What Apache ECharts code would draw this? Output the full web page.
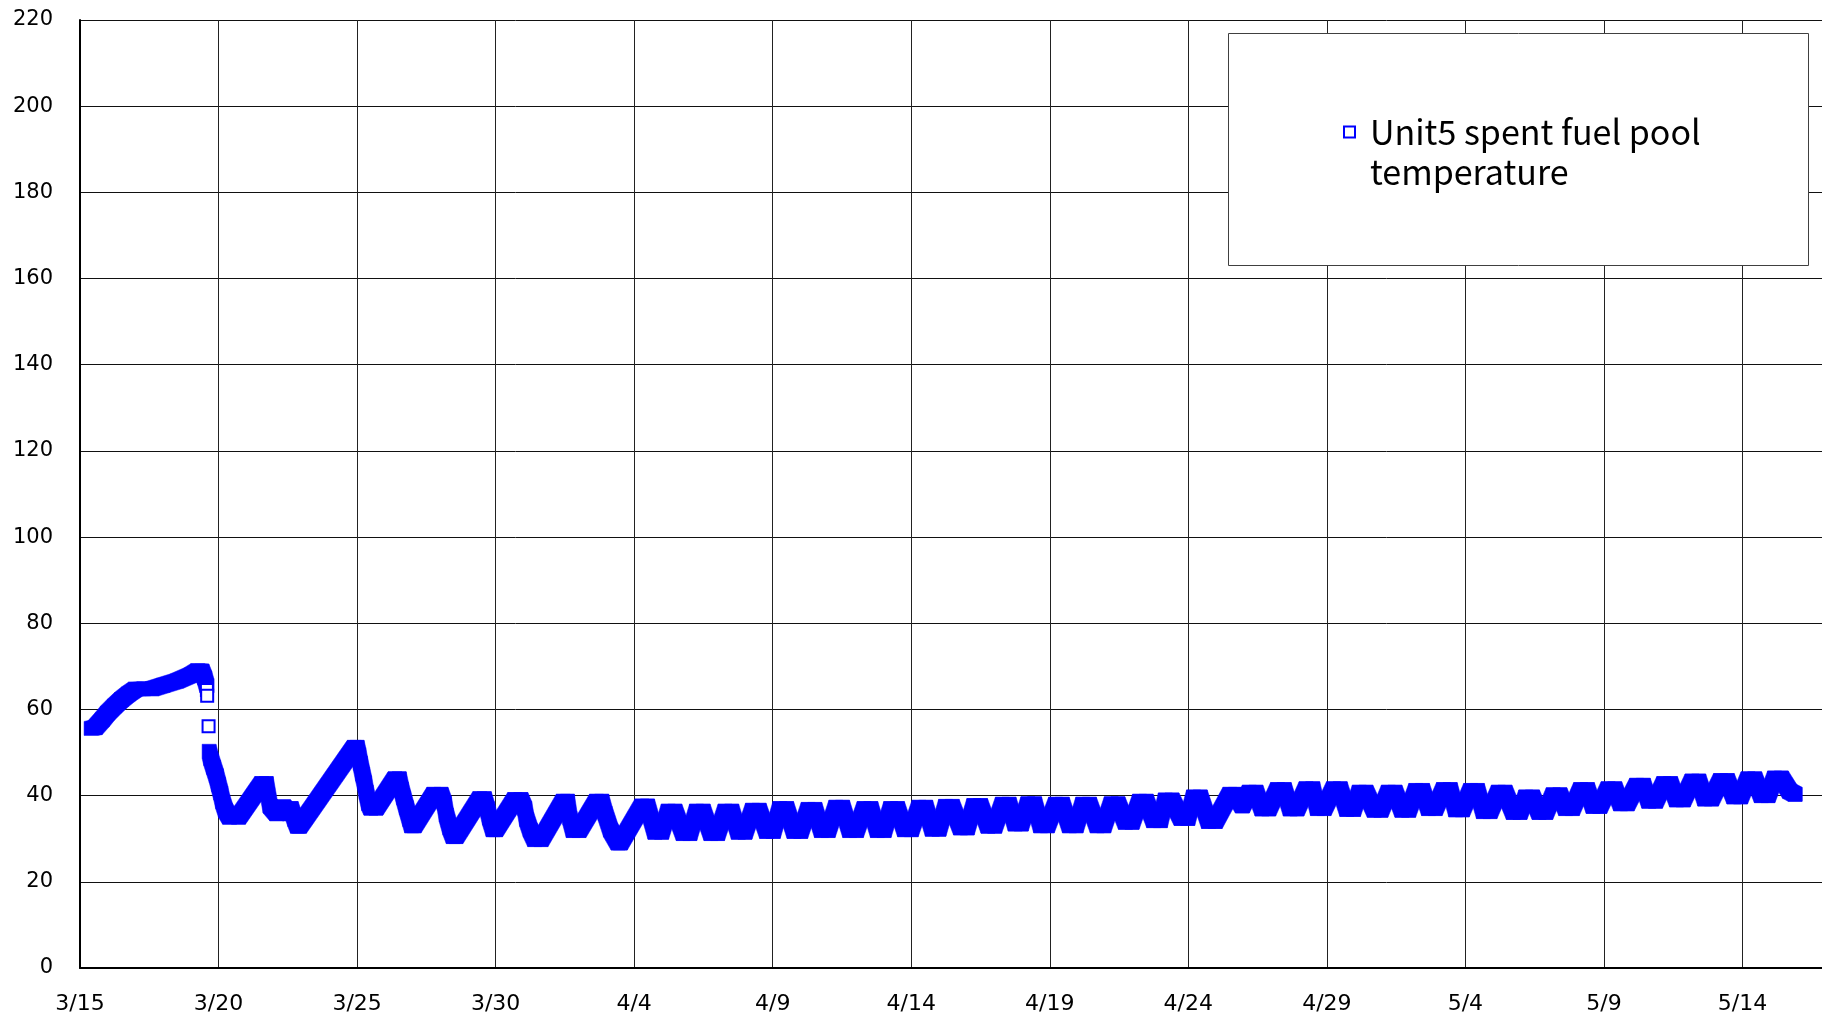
<!DOCTYPE html>
<html>
<head>
<meta charset="utf-8">
<script src="https://cdn.jsdelivr.net/npm/echarts@6/dist/echarts.min.js"></script>
<style>
html,body{margin:0;padding:0;background:#fff;}
#chart{width:1822px;height:1019px;}
</style>
</head>
<body>
<div id="chart"></div>
<script>
// x = days elapsed since 3/15 00:00, y = temperature (deg C)
const seriesName = 'Unit5 spent fuel pool temperature';
const xTickLabels = ['3/15','3/20','3/25','3/30','4/4','4/9','4/14','4/19','4/24','4/29','5/4','5/9','5/14'];
const yTickValues = [0,20,40,60,80,100,120,140,160,180,200,220];

// dense readings, part 1 (3/15 to the peak on 3/19)
const denseA = [[0.40,55.6],[0.55,55.8],[0.8,57.6],[1.0,59.2],[1.25,60.8],[1.5,62.3],[1.75,63.6],[2.0,64.7],[2.3,64.8],[2.6,64.8],[3.0,65.6],[3.5,66.6],[4.0,68.0],[4.25,69.0],[4.4,68.9],[4.5,67.3],[4.58,65.5]];
// sparse readings during the fast drop on 3/19
const sparse = [[4.58,64.5],[4.59,63.2],[4.64,56.1]];
// dense readings, part 2 (3/19 to 5/17)
const denseB = [[4.66,50.3],[4.72,48.6],[4.82,46.6],[4.92,44.6],[5.0,42.6],[5.08,40.6],[5.15,38.6],[5.25,36.6],[5.4,35.0],[5.72,35.0],
[6.56,42.8],[6.72,42.8],[6.86,37.6],[7.1,35.8],[7.35,37.4],[7.56,35.8],[7.62,37.0],[7.75,34.5],[7.85,32.9],[7.92,32.9],
[9.9,51.2],[10.0,51.2],[10.06,49.5],[10.12,47.5],[10.2,45.0],[10.27,43.0],[10.33,40.8],[10.42,38.2],[10.5,37.1],[10.68,37.1],
[11.37,43.9],[11.52,43.9],[11.6,41.5],[11.68,39.5],[11.78,37.2],[11.9,34.5],[11.97,33.0],[12.06,33.0],
[12.77,40.3],[13.03,40.3],[13.15,38.2],[13.22,35.5],[13.35,32.5],[13.47,30.5],[13.57,30.5],
[14.43,39.3],[14.59,39.3],[14.7,37.0],[14.78,34.8],[14.91,32.1],[15.0,32.1],
[15.69,39.1],[15.91,39.1],[16.05,37.0],[16.12,34.5],[16.25,32.0],[16.41,29.8],[16.64,29.8],
[17.44,38.7],[17.59,38.7],[17.68,34.8],[17.8,31.9],[18.01,31.9],
[18.64,38.7],[18.83,38.7],[18.95,35.9],[19.15,32.0],[19.42,29.0],[19.5,29.0],
[20.28,37.6],[20.48,37.6],[20.75,31.5],[20.99,31.5],[21.23,36.4],[21.47,36.4],[21.77,31.2],[22.01,31.2],
[22.25,36.4],[22.49,36.4],[22.77,31.2],[23.01,31.2],[23.28,36.4],[23.52,36.4],[23.76,31.5],[24.0,31.5],
[24.27,36.6],[24.51,36.6],[24.78,31.7],[25.02,31.7],[25.26,37.0],[25.5,37.0],[25.77,31.7],[26.01,31.7],
[26.28,36.8],[26.52,36.8],[26.76,31.9],[27.0,31.9],[27.28,37.3],[27.52,37.3],[27.78,31.9],[28.02,31.9],
[28.3,37.0],[28.54,37.0],[28.78,31.9],[29.02,31.9],[29.26,37.0],[29.5,37.0],[29.76,32.1],[30.0,32.1],
[30.28,37.3],[30.52,37.3],[30.76,32.2],[31.0,32.2],[31.24,37.5],[31.48,37.5],[31.78,32.5],[32.02,32.5],
[32.26,37.7],[32.5,37.7],[32.77,32.9],[33.01,32.9],[33.29,38.0],[33.53,38.0],[33.75,33.4],[33.97,33.4],
[34.21,38.1],[34.45,38.1],[34.67,33.0],[34.91,33.0],[35.21,38.0],[35.45,38.0],[35.71,33.0],[35.95,33.0],
[36.19,38.0],[36.43,38.0],[36.71,33.0],[36.95,33.0],[37.22,38.1],[37.46,38.1],[37.73,33.8],[37.97,33.8],
[38.24,38.7],[38.48,38.7],[38.75,34.2],[38.99,34.2],[39.17,39.0],[39.41,39.0],[39.74,34.7],[39.98,34.7],
[40.19,39.7],[40.43,39.7],[40.73,34.0],[40.97,34.0],[41.5,40.3],[41.7,40.3],[41.95,37.6],
[42.2,40.8],[42.44,40.8],[42.66,36.9],[42.9,36.9],[43.22,41.4],[43.46,41.4],[43.68,36.9],[43.92,36.9],
[44.25,41.6],[44.49,41.6],[44.66,37.0],[44.9,37.0],[45.24,41.6],[45.48,41.6],[45.72,36.8],[45.96,36.8],
[46.17,40.8],[46.41,40.8],[46.71,36.6],[46.95,36.6],[47.22,40.8],[47.46,40.8],[47.71,36.6],[47.95,36.6],
[48.21,41.2],[48.45,41.2],[48.67,37.0],[48.91,37.0],[49.21,41.4],[49.45,41.4],[49.65,36.7],[49.89,36.7],
[50.19,41.2],[50.43,41.2],[50.65,36.3],[50.89,36.3],[51.19,40.8],[51.43,40.8],[51.73,36.1],[51.97,36.1],
[52.18,39.7],[52.42,39.7],[52.66,36.1],[52.9,36.1],[53.17,40.2],[53.41,40.2],[53.62,37.0],[53.86,37.0],
[54.16,41.4],[54.4,41.4],[54.61,37.5],[54.85,37.5],[55.15,41.6],[55.39,41.6],[55.6,38.1],[55.84,38.1],
[56.18,42.4],[56.42,42.4],[56.62,38.7],[56.86,38.7],[57.16,42.8],[57.4,42.8],[57.62,39.0],[57.86,39.0],
[58.18,43.4],[58.42,43.4],[58.64,39.2],[58.88,39.2],[59.21,43.5],[59.45,43.5],[59.69,39.7],[59.93,39.7],
[60.2,43.9],[60.44,43.9],[60.68,40.0],[60.92,40.0],[61.16,44.1],[61.4,44.1],[61.7,41.0],[61.9,40.3]];

const BLUE = '#0000ff';
const AXIS_FONT = '"DejaVu Sans", sans-serif';
const LEGEND_FONT = '"Noto Sans CJK JP", "Noto Sans", sans-serif';
const HALF = 7; // half size of a square marker, px

function hull(points) {
  const p = points.slice().sort((a, b) => a[0] - b[0] || a[1] - b[1]);
  const cross = (o, a, b) => (a[0] - o[0]) * (b[1] - o[1]) - (a[1] - o[1]) * (b[0] - o[0]);
  const lower = [], upper = [];
  for (const q of p) {
    while (lower.length >= 2 && cross(lower[lower.length - 2], lower[lower.length - 1], q) <= 0) lower.pop();
    lower.push(q);
  }
  for (let i = p.length - 1; i >= 0; i--) {
    const q = p[i];
    while (upper.length >= 2 && cross(upper[upper.length - 2], upper[upper.length - 1], q) <= 0) upper.pop();
    upper.push(q);
  }
  upper.pop(); lower.pop();
  return lower.concat(upper);
}

// squares swept along consecutive readings (each item joins reading i to reading i+1)
function sweptSeries(pts) {
  return {
    type: 'custom',
    name: 'band',
    data: pts,
    encode: {x: 0, y: 1},
    silent: true,
    z: 3,
    renderItem: (params, api) => {
      const i = params.dataIndex;
      const a = api.coord([api.value(0), api.value(1)]);
      const b = i + 1 < pts.length ? api.coord(pts[i + 1]) : a;
      const corners = [];
      [a, b].forEach(c => {
        corners.push([c[0] - HALF, c[1] - HALF], [c[0] + HALF, c[1] - HALF],
                     [c[0] + HALF, c[1] + HALF], [c[0] - HALF, c[1] + HALF]);
      });
      return {type: 'polygon', shape: {points: hull(corners)}, style: {fill: BLUE, stroke: BLUE, lineWidth: 0.5}};
    }
  };
}

const chart = echarts.init(document.getElementById('chart'), null, {renderer: 'canvas'});

chart.setOption({
  animation: false,
  backgroundColor: '#fff',
  grid: {left: 80, right: 0, top: 20, bottom: 51, containLabel: false},
  xAxis: {
    type: 'value',
    min: 0,
    max: 62.87,
    interval: 5,
    axisLine: {show: true, lineStyle: {color: '#000', width: 2}},
    axisTick: {show: false},
    splitLine: {show: true, lineStyle: {color: '#222', width: 1}},
    axisLabel: {
      color: '#000', fontFamily: AXIS_FONT, fontSize: 22, margin: 25, showMaxLabel: false,
      formatter: (v) => {
        const i = Math.round(v / 5);
        return (Math.abs(v - i * 5) < 1e-6 && xTickLabels[i]) ? xTickLabels[i] : '';
      }
    }
  },
  yAxis: {
    type: 'value',
    min: yTickValues[0],
    max: yTickValues[yTickValues.length - 1],
    interval: yTickValues[1] - yTickValues[0],
    axisLine: {show: true, lineStyle: {color: '#000', width: 2}},
    axisTick: {show: false},
    splitLine: {show: true, lineStyle: {color: '#111', width: 1}},
    axisLabel: {color: '#000', fontFamily: AXIS_FONT, fontSize: 21, margin: 27, padding: [4, 0, 0, 0]}
  },
  legend: {
    show: true,
    data: [{name: seriesName, icon: 'rect'}],
    left: 1343,
    top: 72,
    padding: 0,
    itemWidth: 11,
    itemHeight: 11,
    itemStyle: {color: '#fff', borderColor: BLUE, borderWidth: 2},
    formatter: (name) => '\n' + name.replace(' temperature', '\ntemperature'),
    textStyle: {color: '#000', fontFamily: LEGEND_FONT, fontSize: 34, lineHeight: 40, padding: [0, 0, 0, 10]},
    selectedMode: false,
    z: 60
  },
  graphic: [{
    type: 'rect',
    z: 50,
    shape: {x: 1228.5, y: 33.5, width: 580, height: 232},
    style: {fill: '#fff', stroke: '#404040', lineWidth: 1}
  }],
  series: [
    sweptSeries(denseA),
    sweptSeries(denseB),
    {
      type: 'scatter',
      name: seriesName,
      data: sparse,
      symbol: 'rect',
      symbolSize: 12,
      itemStyle: {color: '#fff', borderColor: BLUE, borderWidth: 2, opacity: 1},
      z: 4,
      animation: false
    }
  ]
});
</script>
</body>
</html>
